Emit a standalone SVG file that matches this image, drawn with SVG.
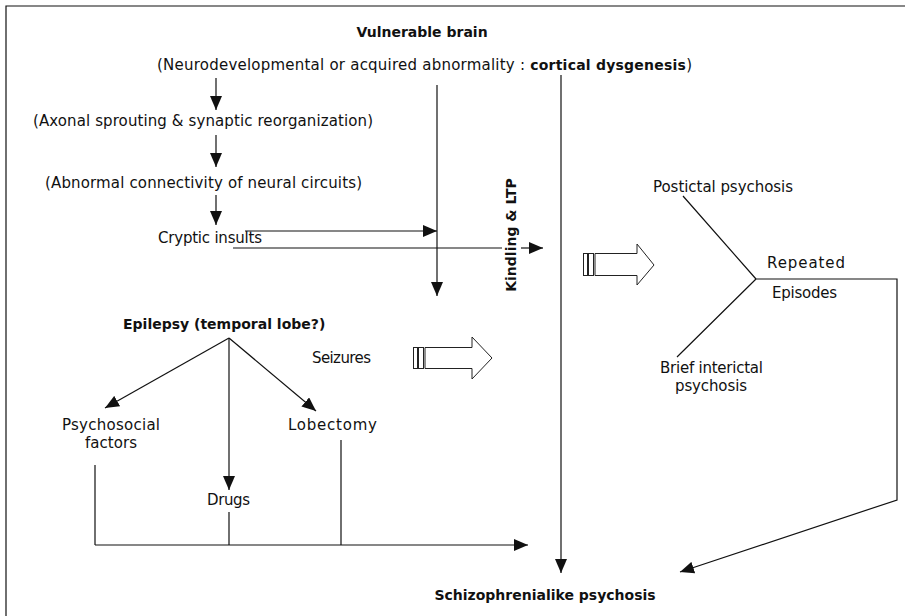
<svg xmlns="http://www.w3.org/2000/svg" width="905" height="616" viewBox="0 0 905 616">
<defs>
<style>
text{font-family:"DejaVu Sans","Liberation Sans",sans-serif;font-size:15px;fill:#111}
.b{font-weight:bold;font-size:14px}
.ln{stroke:#111;stroke-width:1.2;fill:none}
.ar{marker-end:url(#ah)}
.ho{fill:#fff;stroke:#222;stroke-width:1}
</style>
<marker id="ah" viewBox="0 0 14 12" refX="14" refY="6" markerWidth="14" markerHeight="12" markerUnits="userSpaceOnUse" orient="auto">
<path d="M0,0 L14,6 L0,12 z" fill="#111"/>
</marker>
</defs>
<rect width="905" height="616" fill="#fff"/>
<g id="frame"><path class="ln" d="M6,616 V6 H905" stroke-width="1.6"/></g>

<g id="connectors">
<path class="ln ar" d="M216,78 V110"/>
<path class="ln ar" d="M216,135 V167"/>
<path class="ln ar" d="M216,195 V225"/>
<path class="ln ar" d="M245,231 H437"/>
<path class="ln" d="M233,248 H502"/>
<path class="ln ar" d="M521,248 H543"/>
<path class="ln ar" d="M437,85 V296"/>
<path class="ln ar" d="M561,75 V573"/>
<path class="ln ar" d="M229,338 L105,408"/>
<path class="ln ar" d="M229,338 V490"/>
<path class="ln ar" d="M229,338 L316,411"/>
<path class="ln" d="M95,465 V545 M229,512 V545 M341,440 V545"/>
<path class="ln ar" d="M95,545 H528"/>
<path class="ln" d="M683,196 L756,279 M677,357 L756,279"/>
<path class="ln ar" d="M756,279 H897 V500 L680,572"/>
</g>

<g id="hollow1">
<rect class="ho" x="583.5" y="253.5" width="4" height="22"/>
<rect class="ho" x="588.5" y="253.5" width="5" height="22"/>
<path class="ho" d="M595,253.5 H637 V244 L654,265 L637,285 V275.5 H595 Z"/>
</g>
<g id="hollow2">
<rect class="ho" x="413.5" y="347.5" width="4" height="21"/>
<rect class="ho" x="418.5" y="347.5" width="5" height="21"/>
<path class="ho" d="M425,347.5 H472 V337 L492,358 L472,379 V368.5 H425 Z"/>
</g>

<g id="n-vulnerable"><text class="b" x="422" y="37" text-anchor="middle">Vulnerable brain</text></g>
<g id="n-neuro"><text x="157" y="70" textLength="535" lengthAdjust="spacing">(Neurodevelopmental or acquired abnormality : <tspan class="b" font-size="15px">cortical dysgenesis</tspan>)</text></g>
<g id="n-axonal"><text x="33" y="126" textLength="340" lengthAdjust="spacing">(Axonal sprouting &amp; synaptic reorganization)</text></g>
<g id="n-abnormal"><text x="45" y="188" textLength="317" lengthAdjust="spacing">(Abnormal connectivity of neural circuits)</text></g>
<g id="n-cryptic"><text x="158" y="243" textLength="104" lengthAdjust="spacing">Cryptic insults</text></g>
<g id="n-kindling"><text class="b" transform="translate(516,235) rotate(-90)" text-anchor="middle">Kindling &amp; LTP</text></g>
<g id="n-postictal"><text x="653" y="192" textLength="140" lengthAdjust="spacing">Postictal psychosis</text></g>
<g id="n-repeated"><text x="767" y="268" textLength="78" lengthAdjust="spacing">Repeated</text></g>
<g id="n-episodes"><text x="772" y="298" textLength="65" lengthAdjust="spacing">Episodes</text></g>
<g id="n-brief"><text x="660" y="373" textLength="103" lengthAdjust="spacing">Brief interictal</text><text x="675" y="391" textLength="72" lengthAdjust="spacing">psychosis</text></g>
<g id="n-epilepsy"><text class="b" x="123" y="329">Epilepsy (temporal lobe?)</text></g>
<g id="n-seizures"><text x="312" y="363" textLength="59" lengthAdjust="spacing">Seizures</text></g>
<g id="n-psychosocial"><text x="62" y="430" textLength="98" lengthAdjust="spacing">Psychosocial</text><text x="85" y="448" textLength="52" lengthAdjust="spacing">factors</text></g>
<g id="n-lobectomy"><text x="288" y="430" textLength="89" lengthAdjust="spacing">Lobectomy</text></g>
<g id="n-drugs"><text x="207" y="505" textLength="43" lengthAdjust="spacing">Drugs</text></g>
<g id="n-schizo"><text class="b" x="545" y="600" text-anchor="middle">Schizophrenialike psychosis</text></g>
</svg>
